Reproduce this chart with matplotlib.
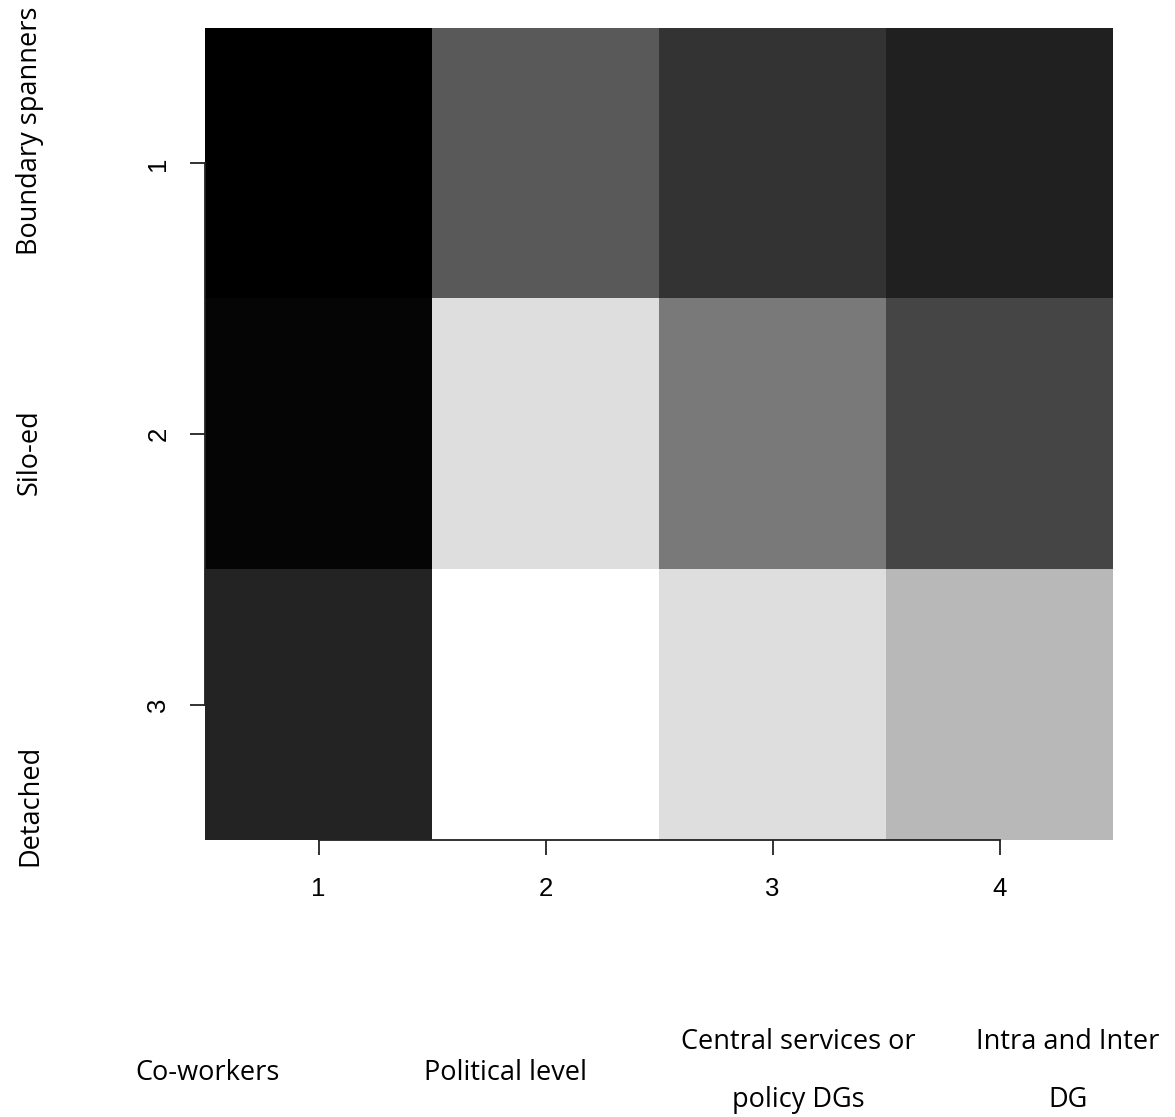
import matplotlib
matplotlib.use("Agg")
import matplotlib.pyplot as plt
import numpy as np

# grey level of each cell (0 = black, 1 = white), rows top to bottom
row_boundary = [0.00, 0.35, 0.20, 0.13]
row_silo = [0.02, 0.87, 0.48, 0.27]
row_detached = [0.14, 1.00, 0.87, 0.72]

x_ticks = [1, 2, 3, 4]
y_ticks = [1, 2, 3]
group_labels = ["Boundary spanners", "Silo-ed", "Detached"]
contact_labels = ["Co-workers", "Political level", "Central services or\npolicy DGs", "Intra and Inter\nDG"]

W, H = 1175, 1117
fig = plt.figure(figsize=(W / 100, H / 100), dpi=100)
ax = fig.add_axes([205 / W, 1 - 840 / H, (1113 - 205) / W, (840 - 28) / H])

grid = np.array([row_boundary, row_silo, row_detached])
ax.imshow(grid, cmap="gray", vmin=0, vmax=1, aspect="auto",
          extent=(0.5, 4.5, 3.5, 0.5), interpolation="nearest")

for side in ("top", "right"):
    ax.spines[side].set_visible(False)
ax.spines["left"].set_bounds(1, 3)
ax.spines["bottom"].set_bounds(1, 4)
for side in ("left", "bottom"):
    ax.spines[side].set_linewidth(1.3)
    ax.spines[side].set_color("#222222")

tick_font = {"family": "Liberation Sans", "size": 18.5}
ax.set_xticks(x_ticks)
ax.set_xticklabels([str(v) for v in x_ticks], fontdict=tick_font)
ax.set_yticks(y_ticks)
ax.set_yticklabels([str(v) for v in y_ticks], fontdict=tick_font, rotation=90, va="center")
ax.tick_params(length=11, width=1.3, color="#222222", direction="out")
ax.tick_params(axis="x", pad=16)
ax.tick_params(axis="y", pad=14)

label_font = dict(family="Open Sans", size=19.5, color="black")

# row group labels on the left
for text, yc in zip(group_labels, [131, 452, 805]):
    fig.text(30 / W, 1 - yc / H, text, rotation=90, ha="center", va="center", **label_font)

# contact labels under the plot
label_pos = [(208, 1073), (505, 1073), (798, 1071), (1068, 1071)]
for text, (xc, yc) in zip(contact_labels, label_pos):
    fig.text(xc / W, 1 - yc / H, text, ha="center", va="center",
             linespacing=2.45, **label_font)

fig.savefig("out.png", dpi=100, facecolor="white")
